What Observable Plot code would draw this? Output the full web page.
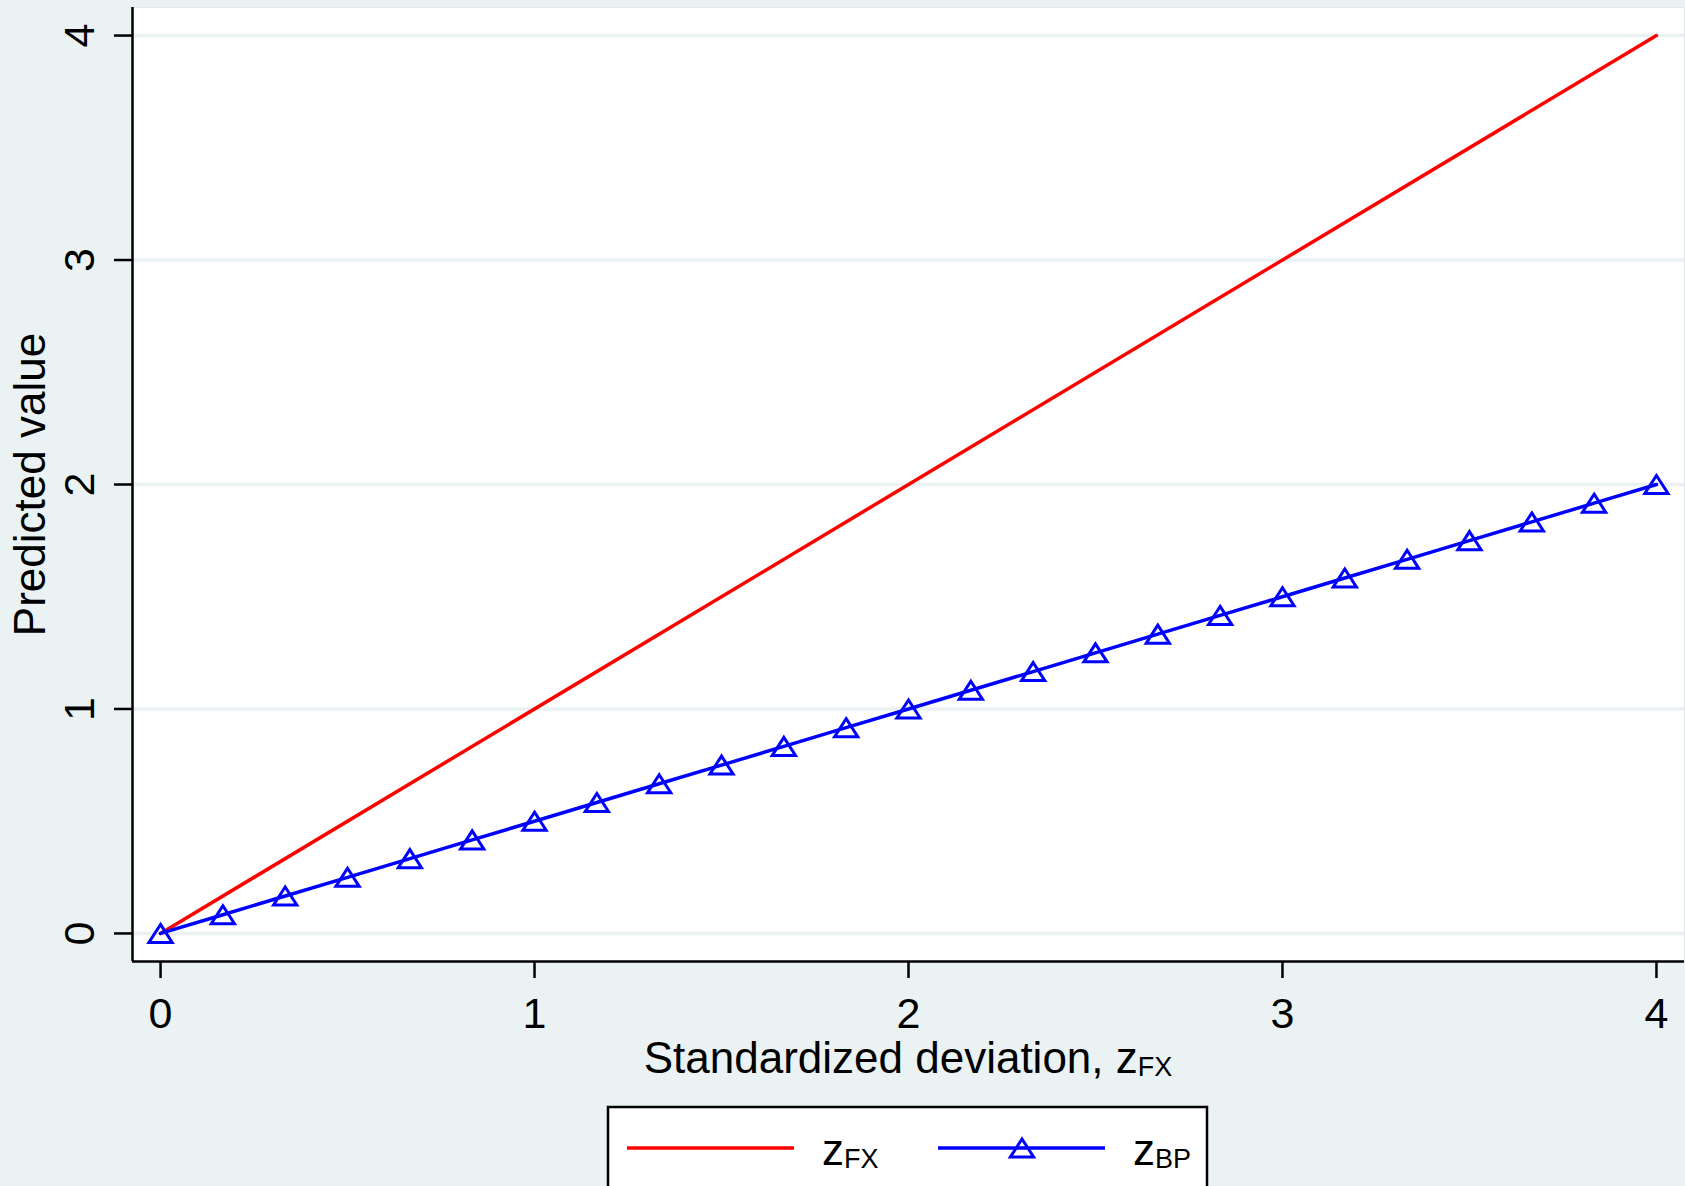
<!DOCTYPE html>
<html><head><meta charset="utf-8">
<script src="https://cdn.jsdelivr.net/npm/d3@7"></script>
<script src="https://cdn.jsdelivr.net/npm/@observablehq/plot@0.6"></script>
<style>
html,body{margin:0;padding:0;background:#eaf2f3;overflow:hidden;}
#wrap{position:relative;width:1685px;height:1186px;font-family:"Liberation Sans",Arial,sans-serif;color:#000;}
#chart{position:absolute;left:0;top:0;}
#xtitle{position:absolute;left:132px;width:1552px;top:1038px;text-align:center;font-size:44px;line-height:40px;white-space:nowrap;}
#xtitle .sub{font-size:27px;vertical-align:-3px;}
#legend{position:absolute;left:606px;top:1105px;}
</style></head><body>
<div id="wrap"><div id="chart"></div><div id="xtitle">Standardized deviation, z<span class="sub">FX</span></div><div id="legend"></div></div>
<script>
// ---- data ----
const xTicks = [0, 1, 2, 3, 4];
const yTicks = [0, 1, 2, 3, 4];
const fxX = [0, 4];
const fxY = [0, 4];
const bpX = [0, 0.1667, 0.3333, 0.5, 0.6667, 0.8333, 1, 1.1667, 1.3333, 1.5, 1.6667, 1.8333, 2,
             2.1667, 2.3333, 2.5, 2.6667, 2.8333, 3, 3.1667, 3.3333, 3.5, 3.6667, 3.8333, 4];
const bpY = [0, 0.0833, 0.1667, 0.25, 0.3333, 0.4167, 0.5, 0.5833, 0.6667, 0.75, 0.8333, 0.9167, 1,
             1.0833, 1.1667, 1.25, 1.3333, 1.4167, 1.5, 1.5833, 1.6667, 1.75, 1.8333, 1.9167, 2];
const seriesMain = ["z", "z"];
const seriesSub = ["FX", "BP"];
const seriesColors = ["#ff0000", "#0000ff"];
const xDomain = [-0.075, 4.075];
const yDomain = [-0.125, 4.125];
const yTitle = "Predicted value";

const fxData = fxX.map((x, i) => ({x, y: fxY[i]}));
const bpData = bpX.map((x, i) => ({x, y: bpY[i]}));

// Stata-like hollow triangle centred on its bounding box
const stataTriangle = {
  draw(ctx, size) {
    const r = Math.sqrt(size / Math.PI);
    const w = 1.25 * r, h = 0.97 * r;
    ctx.moveTo(0, -h); ctx.lineTo(w, h); ctx.lineTo(-w, h); ctx.closePath();
  }
};

const plot = Plot.plot({
  width: 1685,
  height: 1032,
  marginLeft: 132,
  marginRight: 1,
  marginTop: 7,
  marginBottom: 71,
  style: {background: "transparent", fontFamily: "'Liberation Sans', Arial, sans-serif", color: "#000", overflow: "visible"},
  x: {domain: xDomain, label: null},
  y: {domain: yDomain, label: null, axis: null},
  marks: [
    Plot.frame({fill: "white", stroke: "#dfe8ea"}),
    Plot.ruleY(yTicks, {y: d => d, stroke: "#eaf2f3", strokeWidth: 3.5}),
    Plot.ruleX([xDomain[0]], {stroke: "black", strokeWidth: 2.5}),
    Plot.ruleY([yDomain[0]], {stroke: "black", strokeWidth: 2.5}),
    Plot.axisX({ticks: xTicks, tickSize: 17, tickPadding: 19, fontSize: 43, strokeWidth: 2.5, tickFormat: d => String(d), label: null}),
    Plot.ruleY(yTicks, {y: d => d, x1: xDomain[0], x2: xDomain[0], insetLeft: -18, stroke: "black", strokeWidth: 2.5}),
    Plot.text(yTicks, {y: d => d, text: d => String(d), frameAnchor: "left", textAnchor: "middle", lineAnchor: "middle", dx: -52, rotate: -90, fontSize: 43}),
    Plot.text([yTitle], {frameAnchor: "left", textAnchor: "middle", lineAnchor: "middle", dx: -102, rotate: -90, fontSize: 44}),
    Plot.line(fxData, {x: "x", y: "y", stroke: seriesColors[0], strokeWidth: 3.5}),
    Plot.line(bpData, {x: "x", y: "y", stroke: seriesColors[1], strokeWidth: 3.5}),
    Plot.dot(bpData, {x: "x", y: "y", symbol: stataTriangle, r: 9.3, stroke: seriesColors[1], strokeWidth: 3, fill: "none", strokeLinejoin: "miter"})
  ]
});
document.getElementById("chart").appendChild(plot);

// ---- legend ----
const leg = d3.select("#legend").append("svg")
  .attr("width", 604).attr("height", 81)
  .style("font-family", "'Liberation Sans', Arial, sans-serif");
leg.append("rect").attr("x", 2).attr("y", 2).attr("width", 599).attr("height", 140)
  .attr("fill", "white").attr("stroke", "black").attr("stroke-width", 2.5);
const lx = [21, 332];
seriesColors.forEach((c, i) => {
  const g = leg.append("g").attr("transform", `translate(${lx[i]},0)`);
  g.append("line").attr("x1", 0).attr("x2", 167).attr("y1", 43).attr("y2", 43)
    .attr("stroke", c).attr("stroke-width", 3.5);
  if (i === 1) {
    const p = d3.path(); stataTriangle.draw(p, Math.PI * 9.3 * 9.3);
    g.append("path").attr("d", p.toString()).attr("transform", "translate(84,43)")
      .attr("fill", "none").attr("stroke", c).attr("stroke-width", 3);
  }
  const t = g.append("text").attr("x", 195).attr("y", 60).attr("font-size", 44).attr("fill", "black");
  t.append("tspan").text(seriesMain[i]);
  t.append("tspan").attr("font-size", 27).attr("dy", 3).text(seriesSub[i]);
});
</script>
</body></html>
